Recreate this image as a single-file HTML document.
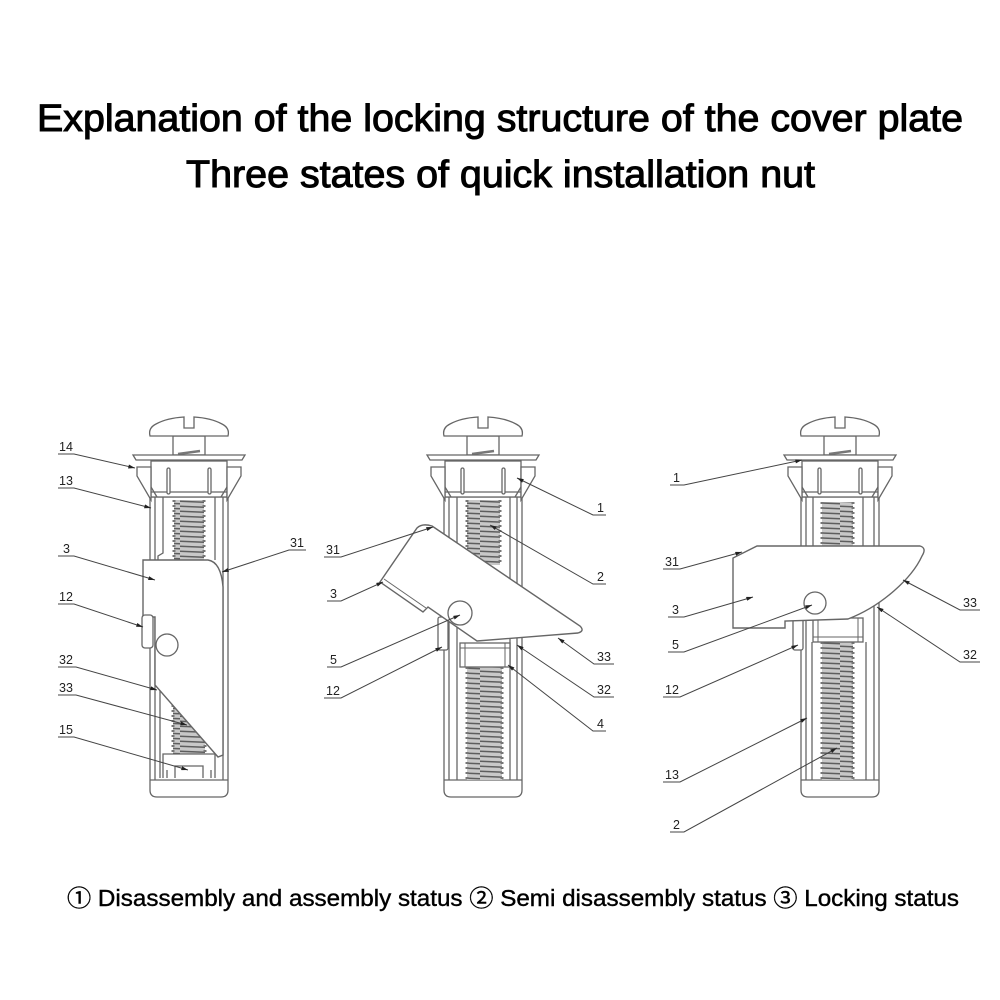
<!DOCTYPE html>
<html>
<head>
<meta charset="utf-8">
<style>
  html,body{margin:0;padding:0;background:#fff;}
  svg{display:block;}
  .t{font-family:"Liberation Sans","Noto Sans CJK JP",sans-serif;}
  .lb{font-family:"Liberation Sans",sans-serif;font-size:12.5px;fill:#222;}
</style>
</head>
<body>
<svg width="1000" height="1000" viewBox="0 0 1000 1000" xmlns="http://www.w3.org/2000/svg">
<defs>
  <pattern id="spr" patternUnits="userSpaceOnUse" width="60" height="5">
    <rect width="60" height="5" fill="#c8c8c8"/>
    <path d="M0,1.2 L60,3.8" stroke="#5e5e5e" stroke-width="1.5"/>
  </pattern>
  <marker id="ar" viewBox="0 0 10 6" refX="10" refY="3" markerWidth="7" markerHeight="4" markerUnits="userSpaceOnUse" orient="auto">
    <path d="M0,0 L10,3 L0,6 Z" fill="#222"/>
  </marker>
  <g id="base" fill="#fff" stroke="#666" stroke-width="1.3">
    <path d="M-39,497 L-39,790 Q-39,797 -32,797 L32,797 Q39,797 39,790 L39,497 Z"/>
    <path d="M-34,497 V780 M34,497 V780 M-39,780 H39" fill="none"/>
    <rect x="-38" y="461" width="76" height="36"/>
    <path d="M-38,467 H-52 V476 L-38,500 Z"/>
    <path d="M38,467 H52 V476 L38,500 Z"/>
    <path d="M-38,492 H38 M-38,487 L-32,497 M38,487 L32,497" fill="none"/>
    <rect x="-22" y="468" width="3" height="26" rx="1.5"/>
    <rect x="19" y="468" width="3" height="26" rx="1.5"/>
    <rect x="-16" y="436" width="32" height="19"/>
    <path d="M-11,454 L11,451" stroke="#777" stroke-width="2.5" fill="none"/>
    <path d="M-56,455 H56 L53,460 H-53 Z"/>
    <path d="M-39,436 L39,436 Q41,428 33,424 Q22,418 5,417 L5,428 L-5,428 L-5,417 Q-22,418 -33,424 Q-41,428 -39,436 Z"/>
  </g>
</defs>

<rect width="1000" height="1000" fill="#fff"/>

<!-- Titles -->
<text class="t" x="37" y="131" font-size="38" textLength="926" lengthAdjust="spacingAndGlyphs" fill="#000" stroke="#000" stroke-width="1">Explanation of the locking structure of the cover plate</text>
<text class="t" x="186" y="187" font-size="38" textLength="629" lengthAdjust="spacingAndGlyphs" fill="#000" stroke="#000" stroke-width="1">Three states of quick installation nut</text>

<!-- ================= FIGURE 1 ================= -->
<use href="#base" transform="translate(189,0)"/>
<g fill="none" stroke="#666" stroke-width="1.3">
  <path d="M163,497 V553 L158,556 V560 M215,497 V560"/>
  <path d="M160,690 V778"/>
</g>
<rect x="174" y="500" width="30" height="60" fill="url(#spr)"/>
<line x1="174" y1="500" x2="174" y2="560" stroke="#777" stroke-width="3" stroke-dasharray="2 3"/>
<line x1="204" y1="500" x2="204" y2="560" stroke="#777" stroke-width="3" stroke-dasharray="2 3"/>
<rect x="173" y="700" width="32" height="55" fill="url(#spr)"/>
<line x1="173" y1="700" x2="173" y2="755" stroke="#777" stroke-width="3" stroke-dasharray="2 3"/>
<line x1="205" y1="700" x2="205" y2="755" stroke="#777" stroke-width="3" stroke-dasharray="2 3"/>
<path d="M163,778 V754 H215 V778 M175,778 V766 H203 V778 M167,778 V770 M211,778 V770" fill="#fff" stroke="#666" stroke-width="1.3"/>
<path d="M143,560 H208 Q221,562 223,587 V755 L218,757 L155,685 V617 H143 Z" fill="#fff" stroke="#666" stroke-width="1.4"/>
<rect x="142" y="615" width="11" height="33" rx="3" fill="#fff" stroke="#666" stroke-width="1.3"/>
<circle cx="167" cy="645" r="11" fill="#fff" stroke="#666" stroke-width="1.3"/>

<!-- ================= FIGURE 2 ================= -->
<use href="#base" transform="translate(483,0)"/>
<g fill="none" stroke="#666" stroke-width="1.3">
  <path d="M457,497 V780 M510,497 V780"/>
</g>
<rect x="467" y="500" width="33" height="65" fill="url(#spr)"/>
<line x1="467" y1="500" x2="467" y2="565" stroke="#777" stroke-width="3" stroke-dasharray="2 3"/>
<line x1="500" y1="500" x2="500" y2="565" stroke="#777" stroke-width="3" stroke-dasharray="2 3"/>
<rect x="467" y="667" width="35" height="113" fill="url(#spr)"/>
<line x1="467" y1="667" x2="467" y2="780" stroke="#777" stroke-width="3" stroke-dasharray="2 3"/>
<line x1="502" y1="667" x2="502" y2="780" stroke="#777" stroke-width="3" stroke-dasharray="2 3"/>
<rect x="460" y="643" width="50" height="24" fill="#fff" stroke="#666" stroke-width="1.3"/>
<path d="M465,643 V667 M505,643 V667 M460,648 H510" fill="none" stroke="#666" stroke-width="1"/>
<rect x="438" y="617" width="10" height="33" rx="2" fill="#fff" stroke="#666" stroke-width="1.3"/>
<path d="M432,526 L580,626 Q585,631 578,633 L477,641 L428,607 L423,612 L380,582 L417,528 Q422,523 432,526 Z" fill="#fff" stroke="#666" stroke-width="1.4"/>
<path d="M384,579 L426,608" fill="none" stroke="#666" stroke-width="1"/>
<circle cx="460" cy="613" r="12" fill="#fff" stroke="#666" stroke-width="1.3"/>

<!-- ================= FIGURE 3 ================= -->
<use href="#base" transform="translate(840,0)"/>
<g fill="none" stroke="#666" stroke-width="1.3">
  <path d="M813,497 V546 M863,497 V546 M812,642 V780 M866,642 V780"/>
</g>
<rect x="822" y="502" width="31" height="45" fill="url(#spr)"/>
<line x1="822" y1="502" x2="822" y2="547" stroke="#777" stroke-width="3" stroke-dasharray="2 3"/>
<line x1="853" y1="502" x2="853" y2="547" stroke="#777" stroke-width="3" stroke-dasharray="2 3"/>
<rect x="822" y="642" width="31" height="138" fill="url(#spr)"/>
<line x1="822" y1="642" x2="822" y2="780" stroke="#777" stroke-width="3" stroke-dasharray="2 3"/>
<line x1="853" y1="642" x2="853" y2="780" stroke="#777" stroke-width="3" stroke-dasharray="2 3"/>
<rect x="813" y="618" width="50" height="24" fill="#fff" stroke="#666" stroke-width="1.3"/>
<path d="M818,618 V642 M858,618 V642 M813,637 H863" fill="none" stroke="#666" stroke-width="1"/>
<rect x="793" y="618" width="10" height="32" rx="2" fill="#fff" stroke="#666" stroke-width="1.3"/>
<path d="M757,546 L920,546 Q927,548 922,556 C912,578 882,606 848,619 L785,621 L785,628 L733,628 L733,558 Z" fill="#fff" stroke="#666" stroke-width="1.4"/>
<circle cx="815" cy="603" r="11" fill="#fff" stroke="#666" stroke-width="1.3"/>

<!-- ================= LABELS ================= -->
<g fill="none" stroke="#444" stroke-width="1">
  <polyline points="58,454 74,454 135,468" marker-end="url(#ar)"/>
  <polyline points="58,488 74,488 151,508" marker-end="url(#ar)"/>
  <polyline points="58,556 74,556 155,580" marker-end="url(#ar)"/>
  <polyline points="58,604 74,604 143,627" marker-end="url(#ar)"/>
  <polyline points="58,667 76,667 157,690" marker-end="url(#ar)"/>
  <polyline points="58,695 76,695 187,725" marker-end="url(#ar)"/>
  <polyline points="58,737 74,737 188,770" marker-end="url(#ar)"/>
  <polyline points="306,550 289,550 222,572" marker-end="url(#ar)"/>

  <polyline points="606,515 593,515 517,478" marker-end="url(#ar)"/>
  <polyline points="606,584 593,584 490,525" marker-end="url(#ar)"/>
  <polyline points="324,557 341,557 433,527" marker-end="url(#ar)"/>
  <polyline points="327,601 341,601 383,582" marker-end="url(#ar)"/>
  <polyline points="327,667 341,667 460,615" marker-end="url(#ar)"/>
  <polyline points="324,698 341,698 442,647" marker-end="url(#ar)"/>
  <polyline points="614,664 594,664 558,638" marker-end="url(#ar)"/>
  <polyline points="614,697 594,697 517,645" marker-end="url(#ar)"/>
  <polyline points="606,731 593,731 508,665" marker-end="url(#ar)"/>

  <polyline points="670,485 684,485 802,460" marker-end="url(#ar)"/>
  <polyline points="663,569 680,569 742,552" marker-end="url(#ar)"/>
  <polyline points="668,617 684,617 753,597" marker-end="url(#ar)"/>
  <polyline points="668,652 684,652 812,605" marker-end="url(#ar)"/>
  <polyline points="663,697 680,697 798,645" marker-end="url(#ar)"/>
  <polyline points="663,782 680,782 807,718" marker-end="url(#ar)"/>
  <polyline points="670,832 684,832 837,748" marker-end="url(#ar)"/>
  <polyline points="980,610 960,610 903,580" marker-end="url(#ar)"/>
  <polyline points="980,662 960,662 877,607" marker-end="url(#ar)"/>
</g>
<g class="lb">
  <text x="59" y="451">14</text>
  <text x="59" y="485">13</text>
  <text x="63" y="553">3</text>
  <text x="59" y="601">12</text>
  <text x="59" y="664">32</text>
  <text x="59" y="692">33</text>
  <text x="59" y="734">15</text>
  <text x="290" y="547">31</text>

  <text x="597" y="512">1</text>
  <text x="597" y="581">2</text>
  <text x="326" y="554">31</text>
  <text x="330" y="598">3</text>
  <text x="330" y="664">5</text>
  <text x="326" y="695">12</text>
  <text x="597" y="661">33</text>
  <text x="597" y="694">32</text>
  <text x="597" y="728">4</text>

  <text x="673" y="482">1</text>
  <text x="665" y="566">31</text>
  <text x="672" y="614">3</text>
  <text x="672" y="649">5</text>
  <text x="665" y="694">12</text>
  <text x="665" y="779">13</text>
  <text x="673" y="829">2</text>
  <text x="963" y="607">33</text>
  <text x="963" y="659">32</text>
</g>

<text class="t" x="67" y="906" font-size="23" textLength="892" lengthAdjust="spacingAndGlyphs" fill="#000" stroke="#000" stroke-width="0.4">① Disassembly and assembly status ② Semi disassembly status ③ Locking status</text>
</svg>
</body>
</html>
